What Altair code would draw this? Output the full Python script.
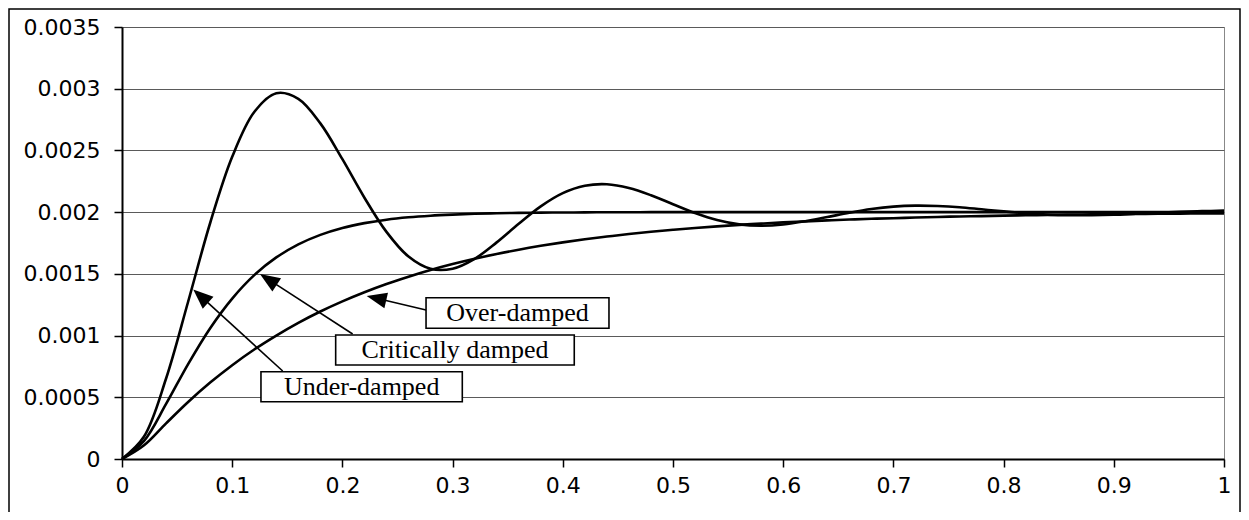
import altair as alt
import pandas as pd

# ---- data ----
t_values = [0.0, 0.02, 0.04, 0.06, 0.08, 0.10, 0.12, 0.14, 0.16, 0.18,
            0.20, 0.22, 0.24, 0.26, 0.28, 0.30, 0.32, 0.34, 0.36, 0.38,
            0.40, 0.42, 0.44, 0.46, 0.48, 0.50, 0.52, 0.54, 0.56, 0.58,
            0.60, 0.62, 0.64, 0.66, 0.68, 0.70, 0.72, 0.74, 0.76, 0.78,
            0.80, 0.82, 0.84, 0.86, 0.88, 0.90, 0.92, 0.94, 0.96, 0.98, 1.0]

under_damped = [0.0, 0.000182, 0.000652, 0.001274, 0.001912, 0.002448, 0.002811, 0.002963, 0.002918, 0.002719,
                0.002429, 0.002117, 0.00184, 0.00164, 0.001541, 0.001542, 0.001622, 0.001755, 0.001906, 0.002047,
                0.002154, 0.002214, 0.002226, 0.002196, 0.002137, 0.002064, 0.001993, 0.001936, 0.001901, 0.00189,
                0.0019, 0.001926, 0.00196, 0.001995, 0.002025, 0.002045, 0.002053, 0.00205, 0.00204, 0.002023,
                0.002006, 0.001991, 0.00198, 0.001975, 0.001975, 0.001979, 0.001987, 0.001995, 0.002003, 0.002008, 0.002012]

critically_damped = [0.0, 0.000147, 0.000446, 0.000769, 0.00106, 0.0013, 0.00149, 0.001633, 0.001739, 0.001816,
                     0.001872, 0.001911, 0.001939, 0.001958, 0.001971, 0.00198, 0.001987, 0.001991, 0.001994, 0.001996,
                     0.001997, 0.001998, 0.001999, 0.001999, 0.002, 0.002, 0.002, 0.002, 0.002, 0.002,
                     0.002, 0.002, 0.002, 0.002, 0.002, 0.002, 0.002, 0.002, 0.002, 0.002,
                     0.002, 0.002, 0.002, 0.002, 0.002, 0.002, 0.002, 0.002, 0.002, 0.002, 0.002]

over_damped = [0.0, 0.000111, 0.000289, 0.000462, 0.000619, 0.00076, 0.000887, 0.001, 0.001103, 0.001195,
               0.001277, 0.001351, 0.001418, 0.001477, 0.001531, 0.001579, 0.001622, 0.001661, 0.001696, 0.001727,
               0.001755, 0.00178, 0.001802, 0.001823, 0.001841, 0.001857, 0.001872, 0.001885, 0.001897, 0.001907,
               0.001917, 0.001925, 0.001933, 0.00194, 0.001946, 0.001951, 0.001956, 0.001961, 0.001965, 0.001968,
               0.001972, 0.001975, 0.001977, 0.00198, 0.001982, 0.001984, 0.001985, 0.001987, 0.001988, 0.001989, 0.00199]

x_ticks = [0, 0.1, 0.2, 0.3, 0.4, 0.5, 0.6, 0.7, 0.8, 0.9, 1]
y_ticks = [0, 0.0005, 0.001, 0.0015, 0.002, 0.0025, 0.003, 0.0035]

# annotation boxes (data coordinates)
label_text = ["Over-damped", "Critically damped", "Under-damped"]
box_x = [0.2759, 0.1939, 0.1261]
box_x2 = [0.4419, 0.4104, 0.3088]
box_y = [0.001307, 0.001005, 0.000707]
box_y2 = [0.001059, 0.000762, 0.000464]
label_x = [0.3589, 0.3022, 0.2175]
label_y = [0.001183, 0.000883, 0.000586]
# arrows: start at box, end at arrow head
arrow_x = [0.2759, 0.2093, 0.1458]
arrow_y = [0.001207, 0.001013, 0.000713]
head_x = [0.2309, 0.1328, 0.0714]
head_y = [0.001302, 0.001455, 0.00132]
head_angle = [283, 303, 312]

# ---- tables ----
curves = pd.DataFrame({
    "t": t_values * 3,
    "v": under_damped + critically_damped + over_damped,
    "series": ["Under-damped"] * len(t_values) + ["Critically damped"] * len(t_values) + ["Over-damped"] * len(t_values),
})
ann = pd.DataFrame({
    "text": label_text, "bx": box_x, "bx2": box_x2, "by": box_y, "by2": box_y2,
    "lx": label_x, "ly": label_y, "ax": arrow_x, "ay": arrow_y,
    "hx": head_x, "hy": head_y, "angle": head_angle,
})

xscale = alt.Scale(domain=[0, 1], nice=False, zero=False)
yscale = alt.Scale(domain=[0, 0.0035], nice=False)
xaxis = alt.Axis(values=x_ticks, format="~g", grid=False, title=None,
                 domainColor="black", domainWidth=2, tickColor="black", tickWidth=1.5, tickSize=8,
                 labelFont="DejaVu Sans", labelFontSize=22, labelColor="black", labelPadding=8,
                 labelFlush=False, labelOverlap=False)
yaxis = alt.Axis(values=y_ticks, format="~g", grid=True, title=None,
                 gridColor="#5a5a5a", gridWidth=1.2,
                 domainColor="black", domainWidth=2, tickColor="black", tickWidth=1.5, tickSize=8,
                 labelFont="DejaVu Sans", labelFontSize=22, labelColor="black", labelPadding=14,
                 labelFlush=False, labelOverlap=False)

frame = alt.Chart(pd.DataFrame({"k": [0]})).mark_rect(
    fillOpacity=0, stroke="black", strokeWidth=1.5
).encode(x=alt.value(-113), x2=alt.value(1118), y=alt.value(-18), y2=alt.value(620))

lines = alt.Chart(curves).mark_line(color="black", strokeWidth=2.6, interpolate="catmull-rom").encode(
    x=alt.X("t:Q", scale=xscale, axis=xaxis),
    y=alt.Y("v:Q", scale=yscale, axis=yaxis),
    detail="series:N",
)

arrows = alt.Chart(ann).mark_rule(color="black", strokeWidth=1.6).encode(
    x=alt.X("ax:Q", scale=xscale, axis=xaxis), y=alt.Y("ay:Q", scale=yscale, axis=yaxis),
    x2="hx:Q", y2="hy:Q",
)

heads = alt.Chart(ann).mark_point(
    shape="M0,-1L-0.8,1L0.8,1Z", filled=True, size=400, color="black", opacity=1
).encode(
    x=alt.X("hx:Q", scale=xscale, axis=xaxis), y=alt.Y("hy:Q", scale=yscale, axis=yaxis),
    angle=alt.Angle("angle:Q", scale=None),
)

boxes = alt.Chart(ann).mark_rect(fill="white", stroke="black", strokeWidth=1.6).encode(
    x=alt.X("bx:Q", scale=xscale, axis=xaxis), x2="bx2:Q",
    y=alt.Y("by:Q", scale=yscale, axis=yaxis), y2="by2:Q",
)

texts = alt.Chart(ann).mark_text(
    font="Liberation Serif", fontSize=26, color="black", align="center", baseline="middle"
).encode(
    x=alt.X("lx:Q", scale=xscale, axis=xaxis), y=alt.Y("ly:Q", scale=yscale, axis=yaxis),
    text="text:N",
)

chart = alt.layer(frame, lines, arrows, heads, boxes, texts).properties(
    width=1102, height=432,
    padding={"left": 114, "top": 19, "right": 17, "bottom": 53},
    autosize=alt.AutoSizeParams(type="none"),
).configure_view(stroke="#888888", strokeWidth=1)

chart.save("out.html", embed_options={"renderer": "svg", "actions": False})
